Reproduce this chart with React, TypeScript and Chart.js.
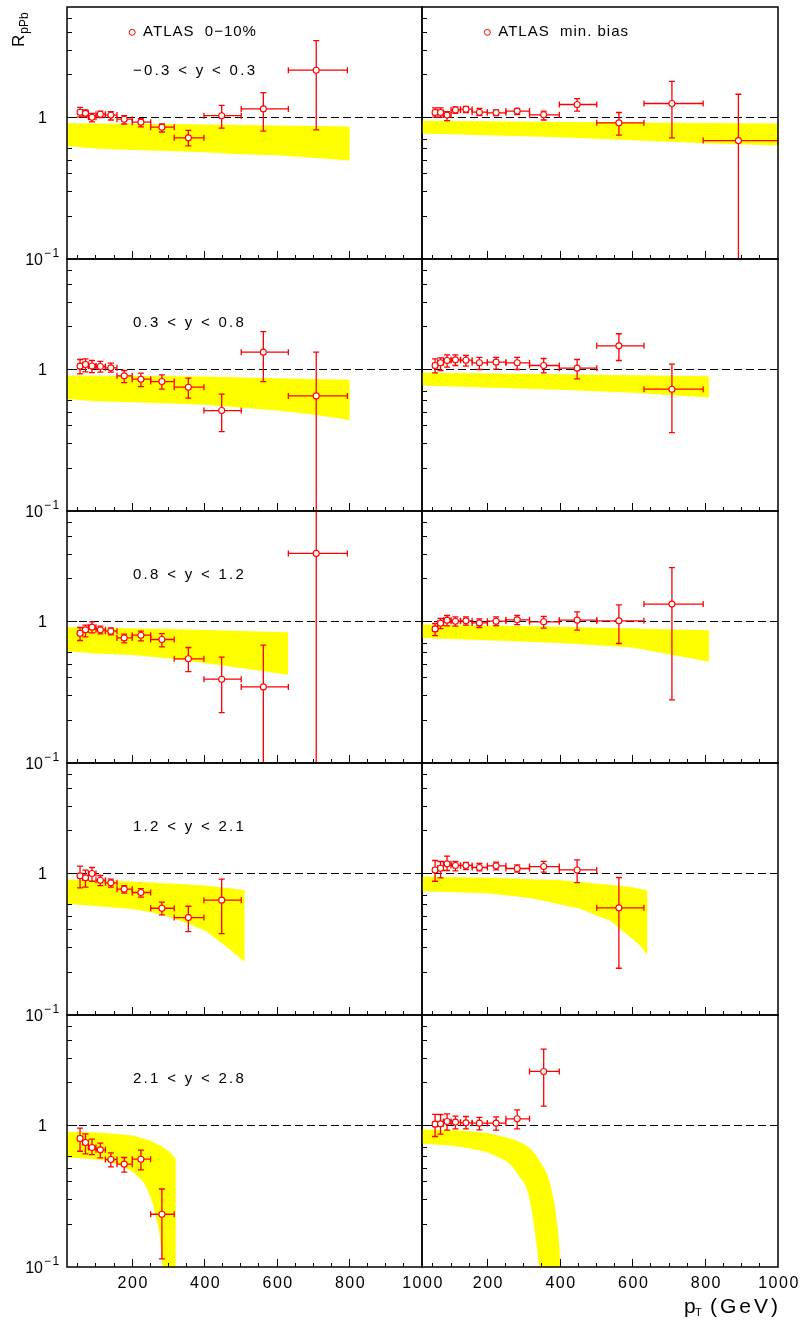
import React, { useEffect, useRef } from 'react';
import { Chart, registerables } from 'chart.js';

Chart.register(...registerables);

// ---------------- data ----------------
const PT = [56, 71, 89, 112, 141, 178, 224, 282, 355, 447, 562, 708, 891];
const PT_LO = [50, 63, 79, 100, 126, 158, 200, 251, 316, 398, 501, 631, 794];
const PT_HI = [63, 79, 100, 126, 158, 200, 251, 316, 398, 501, 631, 794, 1000];

const RAPIDITY_LABELS = ['−0.3 < y < 0.3', '0.3 < y < 0.8', '0.8 < y < 1.2', '1.2 < y < 2.1', '2.1 < y < 2.8'];
const LEGEND_LABELS = ['ATLAS  0−10%', 'ATLAS  min. bias'];
const X_TICK_LABELS = [200, 400, 600, 800, 1000];
const X_MINOR_TICKS = [50, 100, 150, 250, 300, 350, 450, 500, 550, 650, 700, 750, 850, 900, 950];
const X_MAJOR_TICKS = [200, 400, 600, 800];
const Y_TICKS_LEFT = [0.2, 0.3, 0.4, 0.5, 0.6, 2, 3, 4, 5];
const Y_TICKS_RIGHT = [0.2, 0.3, 0.4, 0.5, 0.6, 0.7, 2, 3, 4, 5];

// 0-10% centrality, -0.3<y<0.3
const cenY1Val = [1.09, 1.07, 1.005, 1.055, 1.04, 0.973, 0.927, 0.854, 0.718, 1.03, 1.15, 2.16];
const cenY1Lo = [1.01, 1.01, 0.93, 1.0, 0.96, 0.9, 0.86, 0.79, 0.63, 0.84, 0.8, 0.818];
const cenY1Hi = [1.18, 1.13, 1.07, 1.11, 1.1, 1.03, 0.98, 0.9, 0.81, 1.22, 1.5, 3.5];
const cenY1BandUpX = [20, 200, 400, 600, 800];
const cenY1BandUp = [0.912, 0.902, 0.892, 0.878, 0.864];
const cenY1BandLoX = [20, 100, 200, 300, 400, 500, 600, 700, 800];
const cenY1BandLo = [0.63, 0.604, 0.59, 0.58, 0.568, 0.55, 0.54, 0.52, 0.497];

// min bias, -0.3<y<0.3
const mbY1Val = [1.085, 1.085, 1.04, 1.13, 1.145, 1.09, 1.08, 1.11, 1.045, 1.236, 0.917, 1.256, 0.687];
const mbY1Lo = [1.005, 1.005, 0.95, 1.07, 1.085, 1.03, 1.03, 1.05, 0.96, 1.11, 0.75, 0.718, 0.01];
const mbY1Hi = [1.17, 1.17, 1.1, 1.19, 1.2, 1.16, 1.13, 1.16, 1.11, 1.36, 1.085, 1.8, 1.46];
const mbY1BandUpX = [20, 500, 1000];
const mbY1BandUp = [0.947, 0.927, 0.907];
const mbY1BandLoX = [20, 400, 600, 800, 1000];
const mbY1BandLo = [0.77, 0.726, 0.69, 0.659, 0.634];

// 0-10%, 0.3<y<0.8
const cenY2Val = [1.056, 1.085, 1.06, 1.05, 1.027, 0.902, 0.854, 0.822, 0.75, 0.513, 1.326, 0.651];
const cenY2Lo = [0.93, 0.963, 0.952, 0.957, 0.957, 0.809, 0.758, 0.726, 0.627, 0.364, 0.822, 0.01];
const cenY2Hi = [1.177, 1.19, 1.158, 1.14, 1.108, 0.984, 0.942, 0.917, 0.868, 0.669, 1.85, 1.326];
const cenY2BandUpX = [20, 400, 600, 800];
const cenY2BandUp = [0.907, 0.892, 0.868, 0.845];
const cenY2BandLoX = [20, 100, 200, 400, 600, 700, 800];
const cenY2BandLo = [0.62, 0.597, 0.587, 0.563, 0.513, 0.48, 0.44];

// min bias, 0.3<y<0.8
const mbY2Val = [1.067, 1.115, 1.158, 1.17, 1.164, 1.115, 1.127, 1.115, 1.067, 1.022, 1.47, 0.726];
const mbY2Lo = [0.947, 0.984, 1.04, 1.067, 1.056, 1.0, 1.005, 1.0, 0.947, 0.859, 1.158, 0.358];
const mbY2Hi = [1.19, 1.21, 1.27, 1.27, 1.256, 1.22, 1.22, 1.22, 1.196, 1.177, 1.79, 1.09];
const mbY2BandUpX = [20, 400, 810];
const mbY2BandUp = [0.947, 0.925, 0.897];
const mbY2BandLoX = [20, 400, 600, 810];
const mbY2BandLo = [0.77, 0.718, 0.684, 0.634];

// 0-10%, 0.8<y<1.2
const cenY3Val = [0.827, 0.873, 0.912, 0.873, 0.854, 0.766, 0.8, 0.746, 0.545, 0.391, 0.345, 3.03];
const cenY3Lo = [0.734, 0.779, 0.832, 0.818, 0.805, 0.706, 0.73, 0.662, 0.443, 0.227, 0.01, 0.01];
const cenY3Hi = [0.907, 0.942, 0.995, 0.927, 0.902, 0.814, 0.854, 0.822, 0.655, 0.56, 0.68, 20];
const cenY3BandUpX = [20, 300, 630];
const cenY3BandUp = [0.912, 0.885, 0.84];
const cenY3BandLoX = [20, 100, 200, 300, 400, 500, 630];
const cenY3BandLo = [0.617, 0.594, 0.58, 0.551, 0.51, 0.47, 0.42];

// min bias, 0.8<y<1.2
const mbY3Val = [0.887, 0.973, 1.022, 1.005, 1.011, 0.978, 1.005, 1.027, 0.995, 1.022, 1.011, 1.327];
const mbY3Lo = [0.796, 0.892, 0.932, 0.927, 0.942, 0.907, 0.937, 0.952, 0.897, 0.868, 0.699, 0.279];
const mbY3Hi = [0.968, 1.05, 1.103, 1.079, 1.079, 1.045, 1.079, 1.103, 1.085, 1.17, 1.31, 2.4];
const mbY3BandUpX = [20, 400, 810];
const mbY3BandUp = [0.952, 0.92, 0.868];
const mbY3BandLoX = [20, 200, 400, 600, 700, 810];
const mbY3BandLo = [0.766, 0.738, 0.706, 0.655, 0.588, 0.52];

// 0-10%, 1.2<y<2.1
const cenY4Val = [0.963, 0.932, 1.0, 0.897, 0.859, 0.775, 0.734, 0.568, 0.488, 0.648];
const cenY4Lo = [0.792, 0.8, 0.882, 0.822, 0.8, 0.726, 0.68, 0.51, 0.389, 0.376];
const cenY4Hi = [1.127, 1.056, 1.103, 0.968, 0.912, 0.822, 0.783, 0.627, 0.587, 0.912];
const cenY4BandUpX = [20, 200, 400, 510];
const cenY4BandUp = [0.907, 0.878, 0.822, 0.766];
const cenY4BandLoX = [20, 100, 200, 250, 300, 350, 400, 420, 450, 480, 510];
const cenY4BandLo = [0.61, 0.59, 0.562, 0.535, 0.495, 0.447, 0.395, 0.364, 0.318, 0.277, 0.238];

// min bias, 1.2<y<2.1
const mbY4Val = [1.06, 1.09, 1.17, 1.14, 1.14, 1.103, 1.133, 1.085, 1.12, 1.06, 0.572];
const mbY4Lo = [0.882, 0.932, 1.05, 1.045, 1.067, 1.045, 1.06, 1.022, 1.022, 0.863, 0.214];
const mbY4Hi = [1.236, 1.216, 1.326, 1.216, 1.196, 1.177, 1.203, 1.152, 1.22, 1.25, 0.937];
const mbY4BandUpX = [20, 200, 400, 500, 600, 640];
const mbY4BandUp = [0.947, 0.932, 0.897, 0.85, 0.8, 0.758];
const mbY4BandLoX = [20, 200, 300, 353, 400, 454, 500, 537, 560, 600, 620, 640];
const mbY4BandLo = [0.75, 0.726, 0.68, 0.644, 0.604, 0.565, 0.505, 0.467, 0.417, 0.345, 0.31, 0.266];

// 0-10%, 2.1<y<2.8
const cenY5Val = [0.809, 0.758, 0.699, 0.673, 0.575, 0.533, 0.578, 0.236];
const cenY5Lo = [0.658, 0.63, 0.623, 0.59, 0.51, 0.468, 0.486, 0.114];
const cenY5Hi = [0.957, 0.873, 0.8, 0.75, 0.641, 0.594, 0.669, 0.356];
const cenY5BandUpX = [20, 100, 150, 200, 250, 286, 305, 320, 320];
const cenY5BandUp = [0.902, 0.892, 0.874, 0.849, 0.783, 0.703, 0.645, 0.58, 0.05];
const cenY5BandLoX = [20, 110, 157, 203, 230, 245, 258, 268, 275, 280, 284, 290];
const cenY5BandLo = [0.594, 0.575, 0.536, 0.47, 0.401, 0.34, 0.272, 0.215, 0.176, 0.135, 0.098, 0.05];

// min bias, 2.1<y<2.8
const mbY5Val = [1.022, 1.027, 1.067, 1.056, 1.044, 1.039, 1.039, 1.115, 2.41];
const mbY5Lo = [0.836, 0.868, 0.927, 0.947, 0.947, 0.932, 0.927, 0.947, 1.37];
const mbY5Hi = [1.2, 1.196, 1.21, 1.164, 1.158, 1.14, 1.15, 1.29, 3.47];
const mbY5BandUpX = [20, 100, 150, 200, 250, 280, 300, 320, 335, 350, 365, 375, 385, 392, 398, 401, 403];
const mbY5BandUp = [0.937, 0.93, 0.912, 0.887, 0.827, 0.785, 0.742, 0.68, 0.615, 0.53, 0.45, 0.37, 0.28, 0.2, 0.14, 0.1, 0.05];
const mbY5BandLoX = [20, 100, 150, 200, 250, 270, 283, 295, 305, 314, 321, 328, 334, 338, 342, 345];
const mbY5BandLo = [0.742, 0.722, 0.69, 0.647, 0.566, 0.51, 0.455, 0.415, 0.377, 0.32, 0.26, 0.2, 0.152, 0.125, 0.1, 0.05];

// ---------------- layout / style ----------------
const W = 803;
const H = 1326;
const X_MIN = 20;
const X_MAX = 1000;
const Y_MIN = 0.1;
const Y_MAX = 6.04;
const COL_X = [[67, 422], [422, 778]];
const ROW_TOP = [7, 259, 511, 763, 1015];
const ROW_H = 252;
const RED = '#ff0000';
const YELLOW = '#ffff00';
const FONT = '"Liberation Sans", Arial, Helvetica, sans-serif';
const LEGEND_MARK_X = 200;
const LEGEND_TEXT_X = 230;
const LEGEND_Y = 4.0;
const RANGE_X = 202;
const RANGE_Y = 2.15;

type Panel = {
  col: number; row: number;
  val: number[]; lo: number[]; hi: number[];
  upX: number[]; up: number[]; loX: number[]; loB: number[];
};

const PANELS: Panel[] = [
  { col: 0, row: 0, val: cenY1Val, lo: cenY1Lo, hi: cenY1Hi, upX: cenY1BandUpX, up: cenY1BandUp, loX: cenY1BandLoX, loB: cenY1BandLo },
  { col: 1, row: 0, val: mbY1Val, lo: mbY1Lo, hi: mbY1Hi, upX: mbY1BandUpX, up: mbY1BandUp, loX: mbY1BandLoX, loB: mbY1BandLo },
  { col: 0, row: 1, val: cenY2Val, lo: cenY2Lo, hi: cenY2Hi, upX: cenY2BandUpX, up: cenY2BandUp, loX: cenY2BandLoX, loB: cenY2BandLo },
  { col: 1, row: 1, val: mbY2Val, lo: mbY2Lo, hi: mbY2Hi, upX: mbY2BandUpX, up: mbY2BandUp, loX: mbY2BandLoX, loB: mbY2BandLo },
  { col: 0, row: 2, val: cenY3Val, lo: cenY3Lo, hi: cenY3Hi, upX: cenY3BandUpX, up: cenY3BandUp, loX: cenY3BandLoX, loB: cenY3BandLo },
  { col: 1, row: 2, val: mbY3Val, lo: mbY3Lo, hi: mbY3Hi, upX: mbY3BandUpX, up: mbY3BandUp, loX: mbY3BandLoX, loB: mbY3BandLo },
  { col: 0, row: 3, val: cenY4Val, lo: cenY4Lo, hi: cenY4Hi, upX: cenY4BandUpX, up: cenY4BandUp, loX: cenY4BandLoX, loB: cenY4BandLo },
  { col: 1, row: 3, val: mbY4Val, lo: mbY4Lo, hi: mbY4Hi, upX: mbY4BandUpX, up: mbY4BandUp, loX: mbY4BandLoX, loB: mbY4BandLo },
  { col: 0, row: 4, val: cenY5Val, lo: cenY5Lo, hi: cenY5Hi, upX: cenY5BandUpX, up: cenY5BandUp, loX: cenY5BandLoX, loB: cenY5BandLo },
  { col: 1, row: 4, val: mbY5Val, lo: mbY5Lo, hi: mbY5Hi, upX: mbY5BandUpX, up: mbY5BandUp, loX: mbY5BandLoX, loB: mbY5BandLo },
];

const crisp = (v: number) => Math.round(v - 0.5) + 0.5;

function setSpacing(ctx: any, px: number) {
  if ('letterSpacing' in ctx) ctx.letterSpacing = px + 'px';
}

function drawErrorBars(chart: any, p: Panel) {
  const { ctx, chartArea: a } = chart;
  const xs = chart.scales.x;
  const ys = chart.scales.y;
  ctx.save();
  ctx.beginPath();
  ctx.rect(a.left, a.top, a.right - a.left, a.bottom - a.top);
  ctx.clip();
  ctx.setLineDash([]);
  ctx.strokeStyle = RED;
  ctx.lineWidth = 1.3;
  ctx.lineCap = 'butt';
  const cap = 3;
  p.val.forEach((v, i) => {
    const px = xs.getPixelForValue(PT[i]);
    const py = ys.getPixelForValue(v);
    const x0 = xs.getPixelForValue(PT_LO[i]);
    const x1 = xs.getPixelForValue(PT_HI[i]);
    const y0 = ys.getPixelForValue(p.lo[i]);
    const y1 = ys.getPixelForValue(p.hi[i]);
    ctx.beginPath();
    ctx.moveTo(x0, py); ctx.lineTo(x1, py);
    ctx.moveTo(px, y0); ctx.lineTo(px, y1);
    ctx.moveTo(x0, py - cap); ctx.lineTo(x0, py + cap);
    ctx.moveTo(x1, py - cap); ctx.lineTo(x1, py + cap);
    ctx.moveTo(px - cap, y0); ctx.lineTo(px + cap, y0);
    ctx.moveTo(px - cap, y1); ctx.lineTo(px + cap, y1);
    ctx.stroke();
  });
  ctx.restore();
}

function decorate(chart: any, p: Panel) {
  const { ctx, chartArea: a } = chart;
  const xs = chart.scales.x;
  const ys = chart.scales.y;
  ctx.save();
  ctx.setLineDash([]);
  // ticks (inside)
  ctx.strokeStyle = '#000';
  ctx.lineWidth = 1;
  ctx.beginPath();
  X_MINOR_TICKS.forEach((t) => {
    const px = crisp(xs.getPixelForValue(t));
    ctx.moveTo(px, a.bottom); ctx.lineTo(px, a.bottom - 4);
  });
  X_MAJOR_TICKS.forEach((t) => {
    const px = crisp(xs.getPixelForValue(t));
    ctx.moveTo(px, a.bottom); ctx.lineTo(px, a.bottom - 8);
  });
  (p.col === 0 ? Y_TICKS_LEFT : Y_TICKS_RIGHT).forEach((t) => {
    const py = crisp(ys.getPixelForValue(t));
    ctx.moveTo(a.left, py); ctx.lineTo(a.left + 5, py);
  });
  const p1 = crisp(ys.getPixelForValue(1));
  ctx.moveTo(a.left, p1); ctx.lineTo(a.left + 10, p1);
  ctx.stroke();
  // frame
  ctx.lineWidth = 1.5;
  ctx.strokeRect(a.left, a.top, a.right - a.left, a.bottom - a.top);

  ctx.fillStyle = '#000';
  // y labels (left column)
  if (p.col === 0) {
    ctx.font = `16px ${FONT}`;
    ctx.textAlign = 'right';
    ctx.textBaseline = 'middle';
    ctx.fillText('1', a.left - 20, ys.getPixelForValue(1) + 1);
    const yb = ys.getPixelForValue(0.1);
    ctx.fillText('10', a.left - 24, yb + 2);
    ctx.font = `12px ${FONT}`;
    ctx.textAlign = 'left';
    setSpacing(ctx, 1.5);
    ctx.fillText('−1', a.left - 23, yb - 5);
    setSpacing(ctx, 0);
  }
  // rapidity label
  if (p.col === 0) {
    ctx.font = `15px ${FONT}`;
    ctx.textAlign = 'left';
    ctx.textBaseline = 'middle';
    setSpacing(ctx, 2.3);
    ctx.fillText(RAPIDITY_LABELS[p.row], xs.getPixelForValue(RANGE_X), ys.getPixelForValue(RANGE_Y));
    setSpacing(ctx, 0);
  }
  // legend
  if (p.row === 0) {
    const lx = xs.getPixelForValue(LEGEND_MARK_X);
    const ly = ys.getPixelForValue(LEGEND_Y);
    ctx.strokeStyle = RED;
    ctx.lineWidth = 1;
    ctx.fillStyle = '#fff';
    ctx.beginPath();
    ctx.arc(lx, ly, 3, 0, Math.PI * 2);
    ctx.fill();
    ctx.stroke();
    ctx.fillStyle = '#000';
    ctx.font = `15px ${FONT}`;
    ctx.textAlign = 'left';
    ctx.textBaseline = 'middle';
    setSpacing(ctx, 1);
    ctx.fillText(LEGEND_LABELS[p.col], xs.getPixelForValue(LEGEND_TEXT_X), ly);
    setSpacing(ctx, 0);
  }
  // x labels (bottom row)
  if (p.row === 4) {
    ctx.font = `16px ${FONT}`;
    ctx.textAlign = 'center';
    ctx.textBaseline = 'middle';
    setSpacing(ctx, 1.5);
    X_TICK_LABELS.forEach((t) => {
      ctx.fillText(String(t), xs.getPixelForValue(t) + 1, a.bottom + 17);
    });
    setSpacing(ctx, 0);
  }
  // axis titles
  if (p.row === 0 && p.col === 0) {
    ctx.save();
    ctx.translate(23.5, 47);
    ctx.rotate(-Math.PI / 2);
    ctx.textAlign = 'left';
    ctx.textBaseline = 'alphabetic';
    ctx.font = `17px ${FONT}`;
    ctx.fillText('R', 0, 0);
    const w = ctx.measureText('R').width;
    ctx.font = `12px ${FONT}`;
    ctx.fillText('pPb', w + 1, 4);
    ctx.restore();
  }
  if (p.row === 4 && p.col === 1) {
    ctx.textBaseline = 'alphabetic';
    ctx.textAlign = 'left';
    ctx.font = `21px ${FONT}`;
    ctx.fillText('p', 684, 1313);
    ctx.font = `11px ${FONT}`;
    ctx.fillText('T', 695, 1316);
    ctx.font = `21px ${FONT}`;
    ctx.textAlign = 'right';
    setSpacing(ctx, 3);
    ctx.fillText('(GeV)', 781, 1313);
    setSpacing(ctx, 0);
  }
  ctx.restore();
}

function makeConfig(p: Panel): any {
  const [left, right] = COL_X[p.col];
  const top = ROW_TOP[p.row];
  const bottom = top + ROW_H;
  const band = [
    ...p.upX.map((x, i) => ({ x, y: p.up[i] })),
    ...p.loX.map((x, i) => ({ x, y: p.loB[i] })).reverse(),
  ];
  const points = p.val.map((v, i) => ({ x: PT[i], y: v }));
  return {
    type: 'scatter',
    data: {
      datasets: [
        {
          type: 'scatter',
          data: points,
          pointRadius: 3,
          pointHoverRadius: 3,
          pointBorderWidth: 1.1,
          pointBorderColor: RED,
          pointBackgroundColor: '#fff',
          showLine: false,
        },
        {
          type: 'line',
          data: [{ x: X_MIN, y: 1 }, { x: X_MAX, y: 1 }],
          borderColor: '#000',
          borderWidth: 1,
          borderDash: [8, 4],
          pointRadius: 0,
          fill: false,
        },
        {
          type: 'line',
          data: band,
          borderColor: 'rgba(0,0,0,0)',
          borderWidth: 0,
          backgroundColor: YELLOW,
          pointRadius: 0,
          tension: 0,
          fill: 'shape',
        },
      ],
    },
    options: {
      responsive: false,
      animation: false,
      devicePixelRatio: 1,
      events: [],
      layout: { padding: { left, top, right: W - right, bottom: H - bottom } },
      scales: {
        x: { type: 'linear', min: X_MIN, max: X_MAX, display: false },
        y: { type: 'logarithmic', min: Y_MIN, max: Y_MAX, display: false },
      },
      plugins: { legend: { display: false }, tooltip: { enabled: false } },
    },
    plugins: [
      {
        id: 'panelDecor' + p.row + p.col,
        beforeDatasetDraw(chart: any, args: any) {
          if (args.index === 0) drawErrorBars(chart, p);
        },
        afterDraw(chart: any) {
          decorate(chart, p);
        },
      },
    ],
  };
}

function PanelChart({ panel }: { panel: Panel }) {
  const ref = useRef<HTMLCanvasElement>(null);
  useEffect(() => {
    const chart = new Chart(ref.current as HTMLCanvasElement, makeConfig(panel));
    return () => chart.destroy();
  }, [panel]);
  return (
    <canvas
      ref={ref}
      width={W}
      height={H}
      style={{ position: 'absolute', left: 0, top: 0, width: W, height: H }}
    />
  );
}

export default function App() {
  return (
    <div style={{ position: 'absolute', left: 0, top: 0, width: W, height: H, background: '#fff', overflow: 'hidden' }}>
      {PANELS.map((p) => (
        <PanelChart key={`${p.row}-${p.col}`} panel={p} />
      ))}
    </div>
  );
}
